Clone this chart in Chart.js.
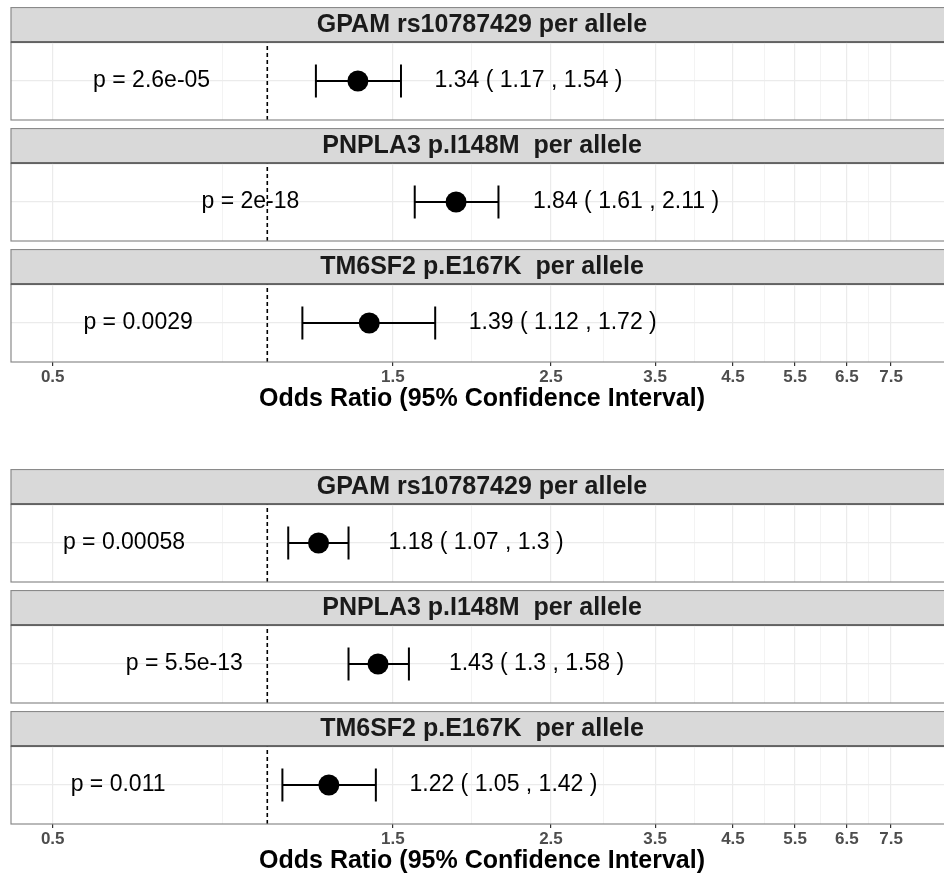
<!DOCTYPE html>
<html>
<head>
<meta charset="utf-8">
<script src="https://cdn.jsdelivr.net/npm/chart.js@4.4.0/dist/chart.umd.min.js"></script>
<style>
  html, body { margin: 0; padding: 0; background: #fff; overflow: hidden; }
  #wrap { position: relative; width: 944px; height: 873px; overflow: hidden; }
  #wrap canvas { position: absolute; left: 0; }
</style>
</head>
<body>
<div id="wrap"></div>
<script>
// facet titles (same for both plots)
const facetLabels = ['GPAM rs10787429 per allele', 'PNPLA3 p.I148M  per allele', 'TM6SF2 p.E167K  per allele'];

// top plot
const orTop = [1.34, 1.84, 1.39];
const loTop = [1.17, 1.61, 1.12];
const hiTop = [1.54, 2.11, 1.72];
const pTop = ['2.6e-05', '2e-18', '0.0029'];

// bottom plot
const orBottom = [1.18, 1.43, 1.22];
const loBottom = [1.07, 1.3, 1.05];
const hiBottom = [1.3, 1.58, 1.42];
const pBottom = ['0.00058', '5.5e-13', '0.011'];

const xTicks = [0.5, 1.5, 2.5, 3.5, 4.5, 5.5, 6.5, 7.5];
const refLine = 1;
const axisTitle = 'Odds Ratio (95% Confidence Interval)';

// layout
const W = 953, LEFT = 11, STRIP = 35, PANEL = 78, GAP = 8, AXIS = 52;
const X_MIN = 0.437, X_MAX = 9.16;
const FONT = '"Liberation Sans", Arial, Helvetica, sans-serif';

Chart.defaults.font.family = FONT;

// minor grid lines sit halfway (in log space) between the labelled ticks
const minorTicks = [];
for (let i = 0; i < xTicks.length - 1; i++) minorTicks.push(Math.sqrt(xTicks[i] * xTicks[i + 1]));
const gridTicks = xTicks.concat(minorTicks).sort((a, b) => a - b);

const facetDecor = {
  id: 'facetDecor',
  beforeDraw(chart) {
    const { ctx, chartArea: a } = chart;
    const f = chart.options.plugins.facetDecor;
    ctx.save();
    ctx.fillStyle = '#d9d9d9';
    ctx.fillRect(a.left, a.top - STRIP, a.right - a.left, STRIP);
    ctx.strokeStyle = '#8a8a8a';
    ctx.lineWidth = 1.2;
    ctx.strokeRect(a.left, a.top - STRIP + 0.5, a.right - a.left, STRIP);
    ctx.fillStyle = '#1a1a1a';
    ctx.font = 'bold 25px ' + FONT;
    ctx.textAlign = 'center';
    ctx.textBaseline = 'middle';
    ctx.fillText(f.label, (a.left + a.right) / 2, a.top - STRIP / 2 + 1);
    ctx.restore();
  },
  afterDatasetsDraw(chart) {
    const { ctx, scales: { x, y } } = chart;
    const f = chart.options.plugins.facetDecor;
    const yc = y.getPixelForValue(0);
    ctx.save();
    ctx.fillStyle = '#000';
    ctx.font = '23px ' + FONT;
    ctx.textAlign = 'center';
    ctx.textBaseline = 'middle';
    ctx.fillText('p = ' + f.p, x.getPixelForValue(f.lo / 1.7), yc);
    ctx.fillText(f.or + ' ( ' + f.lo + ' , ' + f.hi + ' )', x.getPixelForValue(f.hi * 1.51), yc);
    ctx.restore();
  },
  afterDraw(chart) {
    const { ctx, chartArea: a } = chart;
    ctx.save();
    ctx.strokeStyle = '#8a8a8a';
    ctx.lineWidth = 1.2;
    ctx.strokeRect(a.left, a.top, a.right - a.left, a.bottom - a.top);
    ctx.strokeStyle = '#555';
    ctx.lineWidth = 1.6;
    ctx.beginPath();
    ctx.moveTo(a.left, a.top);
    ctx.lineTo(a.right, a.top);
    ctx.stroke();
    ctx.restore();
  }
};

const wrap = document.getElementById('wrap');

function makeFacet(top, label, or, lo, hi, p, withAxis) {
  const h = STRIP + PANEL + (withAxis ? AXIS : 1);
  const c = document.createElement('canvas');
  c.width = W;
  c.height = h;
  c.style.top = top + 'px';
  c.style.width = W + 'px';
  c.style.height = h + 'px';
  wrap.appendChild(c);

  new Chart(c.getContext('2d'), {
    type: 'scatter',
    data: {
      datasets: [
        {
          data: [{ x: or, y: 0 }],
          pointRadius: 10.5,
          pointBackgroundColor: '#000',
          pointBorderColor: '#000',
          pointBorderWidth: 0,
          order: 0
        },
        {
          data: [{ x: lo, y: 0 }, { x: hi, y: 0 }],
          showLine: true,
          borderColor: '#000',
          borderWidth: 2,
          pointStyle: 'line',
          pointRotation: 90,
          pointRadius: 16.5,
          pointBorderColor: '#000',
          pointBorderWidth: 2,
          order: 1
        },
        {
          data: [{ x: refLine, y: -1 }, { x: refLine, y: 1 }],
          showLine: true,
          borderColor: '#000',
          borderWidth: 1.6,
          borderDash: [4, 3],
          pointRadius: 0,
          order: 2
        }
      ]
    },
    options: {
      responsive: false,
      animation: false,
      events: [],
      layout: {
        autoPadding: false,
        padding: { top: STRIP, left: LEFT, right: 0, bottom: withAxis ? 0 : 1 }
      },
      plugins: {
        legend: { display: false },
        tooltip: { enabled: false },
        facetDecor: { label, or, lo, hi, p }
      },
      scales: {
        x: {
          type: 'logarithmic',
          min: X_MIN,
          max: X_MAX,
          bounds: 'data',
          afterBuildTicks: s => { s.ticks = gridTicks.map(v => ({ value: v, isMajor: xTicks.includes(v) })); },
          afterFit: s => { if (withAxis) s.height = AXIS; },
          ticks: {
            display: withAxis,
            autoSkip: false,
            maxRotation: 0,
            padding: 1,
            color: '#4d4d4d',
            font: { size: 17, weight: 'bold' },
            callback: v => xTicks.includes(v) ? String(v) : ''
          },
          grid: {
            color: '#ebebeb',
            lineWidth: c => (c.tick && c.tick.isMajor) ? 1.2 : 0.6,
            drawTicks: withAxis,
            tickLength: 4,
            tickWidth: 1.2,
            tickColor: c => (c.tick && c.tick.isMajor) ? '#333' : 'rgba(0,0,0,0)'
          },
          border: { display: false },
          title: {
            display: withAxis,
            text: axisTitle,
            color: '#000',
            font: { size: 25, weight: 'bold' },
            padding: 0
          }
        },
        y: {
          type: 'linear',
          min: -1,
          max: 1,
          afterBuildTicks: s => { s.ticks = [{ value: 0 }]; },
          ticks: { display: false },
          grid: { color: '#ebebeb', lineWidth: 1.2, drawTicks: false },
          border: { display: false }
        }
      }
    },
    plugins: [facetDecor]
  });
}

const plots = [
  { top: 7, or: orTop, lo: loTop, hi: hiTop, p: pTop },
  { top: 469, or: orBottom, lo: loBottom, hi: hiBottom, p: pBottom }
];

plots.forEach(pl => {
  facetLabels.forEach((lab, i) => {
    makeFacet(pl.top + i * (STRIP + PANEL + GAP), lab, pl.or[i], pl.lo[i], pl.hi[i], pl.p[i], i === facetLabels.length - 1);
  });
});
</script>
</body>
</html>
